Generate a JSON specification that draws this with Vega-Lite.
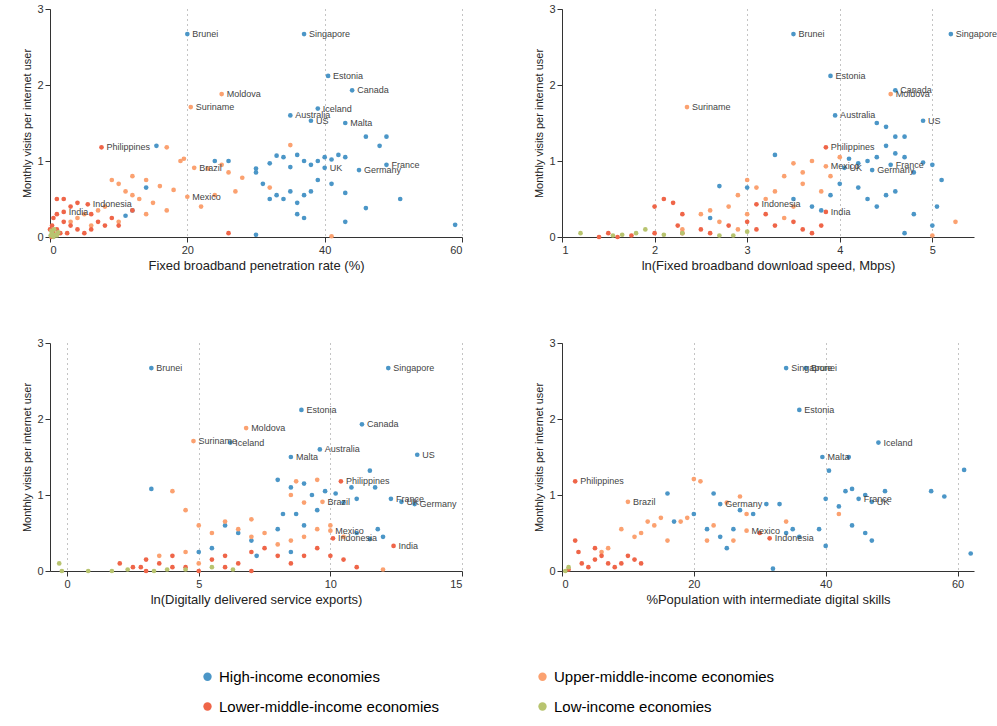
{
"$schema": "https://vega.github.io/schema/vega-lite/v6.json",
"padding": {"left": 21, "top": 3, "right": 5, "bottom": 5},
"config": {"font": "Liberation Sans", "view": {"stroke": null},
 "axis": {"labelFontSize": 11, "titleFontSize": 13, "titleFontWeight": "normal", "labelColor": "#333", "titleColor": "#222", "domainColor": "#333", "tickColor": "#333", "gridDash": [1, 4], "gridColor": "#888"},
 "axisY": {"grid": false, "titleFontSize": 11},
 "legend": {"orient": "none", "legendX": 150, "legendY": 660, "columns": 2, "columnPadding": 95, "rowPadding": 14, "labelFontSize": 15, "symbolSize": 70, "labelLimit": 400, "title": null, "symbolStrokeWidth": 0}},
"vconcat": [
{"hconcat": [
{"width": 412, "height": 228,
 "data": {"values": [
 {"x":20,"y":2.67,"g":"H","lab":"Brunei"},{"x":37,"y":2.67,"g":"H","lab":"Singapore"},{"x":40.5,"y":2.12,"g":"H","lab":"Estonia"},{"x":44,"y":1.93,"g":"H","lab":"Canada"},{"x":25,"y":1.88,"g":"U","lab":"Moldova"},{"x":20.5,"y":1.71,"g":"U","lab":"Suriname"},{"x":39,"y":1.69,"g":"H","lab":"Iceland"},{"x":35,"y":1.6,"g":"H","lab":"Australia"},{"x":38,"y":1.53,"g":"H","lab":"US"},{"x":43,"y":1.5,"g":"H","lab":"Malta"},{"x":7.5,"y":1.18,"g":"L","lab":"Philippines"},{"x":21,"y":0.91,"g":"U","lab":"Brazil"},{"x":49,"y":0.95,"g":"H","lab":"France"},{"x":40,"y":0.91,"g":"H","lab":"UK"},{"x":45,"y":0.88,"g":"H","lab":"Germany"},{"x":20,"y":0.53,"g":"U","lab":"Mexico"},{"x":5.5,"y":0.43,"g":"L","lab":"Indonesia"},{"x":2,"y":0.33,"g":"L","lab":"India"},
 {"x":15.5,"y":1.2,"g":"H"},{"x":24,"y":1.0,"g":"H"},{"x":26,"y":1.0,"g":"H"},{"x":30,"y":0.9,"g":"H"},{"x":32,"y":0.97,"g":"H"},{"x":33,"y":1.07,"g":"H"},{"x":34,"y":1.05,"g":"H"},{"x":35,"y":0.92,"g":"H"},{"x":36,"y":1.08,"g":"H"},{"x":37,"y":1.0,"g":"H"},{"x":38,"y":0.95,"g":"H"},{"x":39,"y":1.0,"g":"H"},{"x":40,"y":1.05,"g":"H"},{"x":41,"y":1.02,"g":"H"},{"x":42,"y":1.08,"g":"H"},{"x":43,"y":1.05,"g":"H"},{"x":46,"y":1.32,"g":"H"},{"x":48,"y":1.2,"g":"H"},{"x":49,"y":1.32,"g":"H"},{"x":30,"y":0.85,"g":"H"},{"x":31,"y":0.7,"g":"H"},{"x":33,"y":0.55,"g":"H"},{"x":34,"y":0.5,"g":"H"},{"x":35,"y":0.6,"g":"H"},{"x":36,"y":0.45,"g":"H"},{"x":37,"y":0.55,"g":"H"},{"x":38,"y":0.6,"g":"H"},{"x":39,"y":0.75,"g":"H"},{"x":41,"y":0.7,"g":"H"},{"x":43,"y":0.58,"g":"H"},{"x":46,"y":0.38,"g":"H"},{"x":51,"y":0.5,"g":"H"},{"x":59,"y":0.16,"g":"H"},{"x":30,"y":0.03,"g":"H"},{"x":37,"y":0.25,"g":"H"},{"x":43,"y":0.2,"g":"H"},{"x":12,"y":0.35,"g":"H"},{"x":11,"y":0.28,"g":"H"},{"x":14,"y":0.65,"g":"H"},{"x":32,"y":0.5,"g":"H"},{"x":36,"y":0.3,"g":"H"},
 {"x":17,"y":1.18,"g":"U"},{"x":19.5,"y":1.03,"g":"U"},{"x":19,"y":1.0,"g":"U"},{"x":23,"y":0.9,"g":"U"},{"x":25,"y":0.95,"g":"U"},{"x":26,"y":0.85,"g":"U"},{"x":14,"y":0.75,"g":"U"},{"x":16,"y":0.67,"g":"U"},{"x":18,"y":0.62,"g":"U"},{"x":12,"y":0.55,"g":"U"},{"x":13,"y":0.5,"g":"U"},{"x":10,"y":0.7,"g":"U"},{"x":9,"y":0.75,"g":"U"},{"x":11,"y":0.6,"g":"U"},{"x":15,"y":0.45,"g":"U"},{"x":17,"y":0.35,"g":"U"},{"x":22,"y":0.4,"g":"U"},{"x":24,"y":0.55,"g":"U"},{"x":8,"y":0.4,"g":"U"},{"x":7,"y":0.35,"g":"U"},{"x":5,"y":0.3,"g":"U"},{"x":3,"y":0.2,"g":"U"},{"x":4,"y":0.25,"g":"U"},{"x":10,"y":0.2,"g":"U"},{"x":14,"y":0.3,"g":"U"},{"x":32,"y":0.65,"g":"U"},{"x":35,"y":1.21,"g":"U"},{"x":28,"y":0.78,"g":"U"},{"x":27,"y":0.6,"g":"U"},{"x":41,"y":0.01,"g":"U"},{"x":12,"y":0.8,"g":"U"},{"x":6,"y":0.15,"g":"U"},
 {"x":1,"y":0.5,"g":"L"},{"x":2,"y":0.5,"g":"L"},{"x":3,"y":0.4,"g":"L"},{"x":4,"y":0.45,"g":"L"},{"x":1,"y":0.3,"g":"L"},{"x":2,"y":0.2,"g":"L"},{"x":3,"y":0.15,"g":"L"},{"x":4,"y":0.1,"g":"L"},{"x":5,"y":0.05,"g":"L"},{"x":6,"y":0.1,"g":"L"},{"x":7,"y":0.2,"g":"L"},{"x":8,"y":0.15,"g":"L"},{"x":9,"y":0.25,"g":"L"},{"x":10,"y":0.15,"g":"L"},{"x":1,"y":0.1,"g":"L"},{"x":0.5,"y":0.05,"g":"L"},{"x":0.3,"y":0.15,"g":"L"},{"x":0.5,"y":0.25,"g":"L"},{"x":1.5,"y":0.05,"g":"L"},{"x":2.5,"y":0.05,"g":"L"},{"x":6,"y":0.3,"g":"L"},{"x":26,"y":0.05,"g":"L"},{"x":12,"y":0.35,"g":"L"},{"x":0,"y":0.1,"g":"L"},{"x":0.2,"y":0.0,"g":"L"},
 {"x":0.1,"y":0.02,"g":"Lo"},{"x":0.3,"y":0.05,"g":"Lo"},{"x":0.5,"y":0.0,"g":"Lo"},{"x":0.8,"y":0.03,"g":"Lo"},{"x":1,"y":0.02,"g":"Lo"},{"x":1.2,"y":0.06,"g":"Lo"},{"x":0.2,"y":0.08,"g":"Lo"},{"x":0.6,"y":0.1,"g":"Lo"}]},
 "encoding": {"x": {"field": "x", "type": "quantitative", "title": "Fixed broadband penetration rate (%)", "scale": {"domain": [0, 60], "nice": false}, "axis": {"values": [0, 20, 40, 60], "grid": true}},
  "y": {"field": "y", "type": "quantitative", "title": "Monthly visits per internet user", "scale": {"domain": [0, 3]}, "axis": {"values": [0, 1, 2, 3]}}},
 "layer": [
  {"mark": {"type": "circle", "size": 22, "opacity": 1}, "encoding": {"color": {"field": "g", "type": "nominal", "scale": {"domain": ["H", "L", "U", "Lo"], "range": ["#4b96c7", "#ef6548", "#fba170", "#b8c46f"]}, "legend": {"labelExpr": "{'H':'High-income economies','U':'Upper-middle-income economies','L':'Lower-middle-income economies','Lo':'Low-income economies'}[datum.label]"}}}},
  {"transform": [{"filter": "datum.lab"}], "mark": {"type": "text", "align": "left", "dx": 5, "fontSize": 9, "color": "#444"}, "encoding": {"text": {"field": "lab"}}}]},
{"width": 412, "height": 228,
 "data": {"values": [
 {"x":3.5,"y":2.67,"g":"H","lab":"Brunei"},{"x":5.2,"y":2.67,"g":"H","lab":"Singapore"},{"x":3.9,"y":2.12,"g":"H","lab":"Estonia"},{"x":4.6,"y":1.93,"g":"H","lab":"Canada"},{"x":4.55,"y":1.88,"g":"U","lab":"Moldova"},{"x":2.35,"y":1.71,"g":"U","lab":"Suriname"},{"x":3.95,"y":1.6,"g":"H","lab":"Australia"},{"x":4.9,"y":1.53,"g":"H","lab":"US"},{"x":3.85,"y":1.18,"g":"L","lab":"Philippines"},{"x":3.85,"y":0.93,"g":"U","lab":"Mexico"},{"x":4.55,"y":0.95,"g":"H","lab":"France"},{"x":4.05,"y":0.91,"g":"H","lab":"UK"},{"x":4.35,"y":0.88,"g":"H","lab":"Germany"},{"x":3.1,"y":0.43,"g":"L","lab":"Indonesia"},{"x":3.85,"y":0.33,"g":"L","lab":"India"},
 {"x":4.4,"y":1.5,"g":"H"},{"x":4.5,"y":1.45,"g":"H"},{"x":4.6,"y":1.32,"g":"H"},{"x":4.7,"y":1.32,"g":"H"},{"x":4.5,"y":1.2,"g":"H"},{"x":4.6,"y":1.1,"g":"H"},{"x":4.7,"y":1.05,"g":"H"},{"x":4.4,"y":1.05,"g":"H"},{"x":4.3,"y":1.0,"g":"H"},{"x":4.2,"y":0.97,"g":"H"},{"x":4.1,"y":1.03,"g":"H"},{"x":4.8,"y":0.85,"g":"H"},{"x":4.9,"y":0.98,"g":"H"},{"x":5.0,"y":0.95,"g":"H"},{"x":5.1,"y":0.75,"g":"H"},{"x":4.6,"y":0.6,"g":"H"},{"x":4.5,"y":0.55,"g":"H"},{"x":4.3,"y":0.5,"g":"H"},{"x":4.2,"y":0.65,"g":"H"},{"x":4.0,"y":0.7,"g":"H"},{"x":3.9,"y":0.55,"g":"H"},{"x":4.4,"y":0.4,"g":"H"},{"x":4.7,"y":0.05,"g":"H"},{"x":5.0,"y":0.15,"g":"H"},{"x":5.05,"y":0.4,"g":"H"},{"x":3.3,"y":1.08,"g":"H"},{"x":2.7,"y":0.67,"g":"H"},{"x":2.6,"y":0.25,"g":"H"},{"x":3.0,"y":0.65,"g":"H"},{"x":3.5,"y":0.5,"g":"H"},{"x":3.7,"y":0.4,"g":"H"},{"x":4.8,"y":0.3,"g":"H"},{"x":3.8,"y":0.35,"g":"H"},
 {"x":3.5,"y":0.97,"g":"U"},{"x":3.7,"y":1.0,"g":"U"},{"x":3.6,"y":0.85,"g":"U"},{"x":3.4,"y":0.8,"g":"U"},{"x":3.0,"y":0.75,"g":"U"},{"x":3.1,"y":0.65,"g":"U"},{"x":3.2,"y":0.5,"g":"U"},{"x":3.3,"y":0.6,"g":"U"},{"x":2.9,"y":0.55,"g":"U"},{"x":2.8,"y":0.4,"g":"U"},{"x":2.6,"y":0.35,"g":"U"},{"x":2.5,"y":0.3,"g":"U"},{"x":2.7,"y":0.2,"g":"U"},{"x":3.0,"y":0.3,"g":"U"},{"x":3.4,"y":0.25,"g":"U"},{"x":3.8,"y":0.6,"g":"U"},{"x":3.9,"y":0.8,"g":"U"},{"x":4.0,"y":1.05,"g":"U"},{"x":3.6,"y":0.7,"g":"U"},{"x":2.9,"y":0.1,"g":"U"},{"x":5.25,"y":0.2,"g":"U"},{"x":5.0,"y":0.02,"g":"U"},{"x":2.3,"y":0.1,"g":"U"},{"x":3.5,"y":0.4,"g":"U"},
 {"x":2.0,"y":0.4,"g":"L"},{"x":2.1,"y":0.5,"g":"L"},{"x":2.2,"y":0.45,"g":"L"},{"x":2.3,"y":0.3,"g":"L"},{"x":2.25,"y":0.15,"g":"L"},{"x":2.3,"y":0.05,"g":"L"},{"x":2.5,"y":0.1,"g":"L"},{"x":2.6,"y":0.05,"g":"L"},{"x":2.8,"y":0.15,"g":"L"},{"x":3.0,"y":0.2,"g":"L"},{"x":3.1,"y":0.1,"g":"L"},{"x":3.3,"y":0.15,"g":"L"},{"x":3.5,"y":0.2,"g":"L"},{"x":3.6,"y":0.1,"g":"L"},{"x":3.7,"y":0.05,"g":"L"},{"x":1.4,"y":0.0,"g":"L"},{"x":1.5,"y":0.05,"g":"L"},{"x":1.6,"y":0.0,"g":"L"},{"x":1.75,"y":0.02,"g":"L"},{"x":2.0,"y":0.05,"g":"L"},{"x":3.2,"y":0.3,"g":"L"},{"x":3.8,"y":0.15,"g":"L"},
 {"x":1.2,"y":0.05,"g":"Lo"},{"x":1.55,"y":0.02,"g":"Lo"},{"x":1.65,"y":0.03,"g":"Lo"},{"x":1.8,"y":0.05,"g":"Lo"},{"x":1.9,"y":0.1,"g":"Lo"},{"x":2.1,"y":0.03,"g":"Lo"},{"x":2.3,"y":0.05,"g":"Lo"},{"x":2.7,"y":0.02,"g":"Lo"},{"x":2.85,"y":0.02,"g":"Lo"},{"x":3.0,"y":0.07,"g":"Lo"}]},
 "encoding": {"x": {"field": "x", "type": "quantitative", "title": "ln(Fixed broadband download speed, Mbps)", "scale": {"domain": [1, 5.45], "nice": false}, "axis": {"values": [1, 2, 3, 4, 5], "grid": true}},
  "y": {"field": "y", "type": "quantitative", "title": "Monthly visits per internet user", "scale": {"domain": [0, 3]}, "axis": {"values": [0, 1, 2, 3]}}},
 "layer": [
  {"mark": {"type": "circle", "size": 22, "opacity": 1}, "encoding": {"color": {"field": "g", "type": "nominal"}}},
  {"transform": [{"filter": "datum.lab"}], "mark": {"type": "text", "align": "left", "dx": 5, "fontSize": 9, "color": "#444", "limit": 45}, "encoding": {"text": {"field": "lab"}}}]}
], "spacing": 70},
{"hconcat": [
{"width": 412, "height": 228,
 "data": {"values": [
 {"x":3.2,"y":2.67,"g":"H","lab":"Brunei"},{"x":12.2,"y":2.67,"g":"H","lab":"Singapore"},{"x":8.9,"y":2.12,"g":"H","lab":"Estonia"},{"x":11.2,"y":1.93,"g":"H","lab":"Canada"},{"x":6.8,"y":1.88,"g":"U","lab":"Moldova"},{"x":4.8,"y":1.71,"g":"U","lab":"Suriname"},{"x":6.2,"y":1.69,"g":"H","lab":"Iceland"},{"x":9.6,"y":1.6,"g":"H","lab":"Australia"},{"x":13.3,"y":1.53,"g":"H","lab":"US"},{"x":8.5,"y":1.5,"g":"H","lab":"Malta"},{"x":10.4,"y":1.18,"g":"L","lab":"Philippines"},{"x":12.3,"y":0.95,"g":"H","lab":"France"},{"x":12.7,"y":0.91,"g":"H","lab":"UK"},{"x":13.2,"y":0.88,"g":"H","lab":"Germany"},{"x":9.7,"y":0.91,"g":"U","lab":"Brazil"},{"x":10.0,"y":0.53,"g":"U","lab":"Mexico"},{"x":10.1,"y":0.43,"g":"L","lab":"Indonesia"},{"x":12.4,"y":0.33,"g":"L","lab":"India"},
 {"x":3.2,"y":1.08,"g":"H"},{"x":8,"y":1.2,"g":"H"},{"x":8.5,"y":1.1,"g":"H"},{"x":9,"y":1.15,"g":"H"},{"x":9.3,"y":1.0,"g":"H"},{"x":9.8,"y":1.05,"g":"H"},{"x":10.2,"y":1.02,"g":"H"},{"x":10.8,"y":1.1,"g":"H"},{"x":11.5,"y":1.32,"g":"H"},{"x":11.7,"y":1.1,"g":"H"},{"x":11,"y":0.95,"g":"H"},{"x":10.5,"y":0.9,"g":"H"},{"x":9.5,"y":0.8,"g":"H"},{"x":9,"y":0.6,"g":"H"},{"x":8.7,"y":0.75,"g":"H"},{"x":8.2,"y":0.75,"g":"H"},{"x":8,"y":0.55,"g":"H"},{"x":6,"y":0.6,"g":"H"},{"x":6.5,"y":0.5,"g":"H"},{"x":5.5,"y":0.3,"g":"H"},{"x":5,"y":0.25,"g":"H"},{"x":7,"y":0.4,"g":"H"},{"x":11,"y":0.5,"g":"H"},{"x":11.5,"y":0.42,"g":"H"},{"x":11.8,"y":0.55,"g":"H"},{"x":12,"y":0.45,"g":"H"},{"x":8.5,"y":0.25,"g":"H"},{"x":7.2,"y":0.2,"g":"H"},
 {"x":4,"y":1.05,"g":"U"},{"x":4.5,"y":0.8,"g":"U"},{"x":5,"y":0.6,"g":"U"},{"x":5.5,"y":0.5,"g":"U"},{"x":6,"y":0.65,"g":"U"},{"x":6.5,"y":0.55,"g":"U"},{"x":7,"y":0.45,"g":"U"},{"x":7.5,"y":0.5,"g":"U"},{"x":8,"y":0.35,"g":"U"},{"x":8.5,"y":0.4,"g":"U"},{"x":9,"y":0.45,"g":"U"},{"x":9.5,"y":0.55,"g":"U"},{"x":10,"y":0.6,"g":"U"},{"x":10.5,"y":0.45,"g":"U"},{"x":9,"y":0.9,"g":"U"},{"x":8.5,"y":1.0,"g":"U"},{"x":7,"y":0.68,"g":"U"},{"x":4.5,"y":0.25,"g":"U"},{"x":5,"y":0.1,"g":"U"},{"x":3.5,"y":0.2,"g":"U"},{"x":12,"y":0.02,"g":"U"},{"x":9.5,"y":1.2,"g":"U"},{"x":8.7,"y":1.18,"g":"U"},
 {"x":2,"y":0.1,"g":"L"},{"x":2.5,"y":0.05,"g":"L"},{"x":3,"y":0.15,"g":"L"},{"x":3.5,"y":0.1,"g":"L"},{"x":4,"y":0.2,"g":"L"},{"x":4.5,"y":0.05,"g":"L"},{"x":5,"y":0.0,"g":"L"},{"x":5.5,"y":0.15,"g":"L"},{"x":6,"y":0.2,"g":"L"},{"x":6.5,"y":0.1,"g":"L"},{"x":7,"y":0.25,"g":"L"},{"x":7.5,"y":0.3,"g":"L"},{"x":8,"y":0.2,"g":"L"},{"x":8.5,"y":0.1,"g":"L"},{"x":9,"y":0.2,"g":"L"},{"x":9.5,"y":0.3,"g":"L"},{"x":10,"y":0.2,"g":"L"},{"x":10.5,"y":0.15,"g":"L"},{"x":3,"y":0.0,"g":"L"},{"x":4,"y":0.05,"g":"L"},{"x":6,"y":0.05,"g":"L"},{"x":7,"y":0.0,"g":"L"},{"x":11,"y":0.05,"g":"L"},{"x":2.8,"y":0.05,"g":"L"},
 {"x":-0.3,"y":0.1,"g":"Lo"},{"x":-0.2,"y":0.0,"g":"Lo"},{"x":0.8,"y":0.0,"g":"Lo"},{"x":1.7,"y":0.0,"g":"Lo"},{"x":2.3,"y":0.02,"g":"Lo"},{"x":3.3,"y":0.0,"g":"Lo"},{"x":3.8,"y":0.02,"g":"Lo"},{"x":4.5,"y":0.02,"g":"Lo"},{"x":5.5,"y":0.05,"g":"Lo"},{"x":6.3,"y":0.02,"g":"Lo"}]},
 "encoding": {"x": {"field": "x", "type": "quantitative", "title": "ln(Digitally delivered service exports)", "scale": {"domain": [-0.65, 15], "nice": false}, "axis": {"values": [0, 5, 10, 15], "grid": true}},
  "y": {"field": "y", "type": "quantitative", "title": "Monthly visits per internet user", "scale": {"domain": [0, 3]}, "axis": {"values": [0, 1, 2, 3]}}},
 "layer": [
  {"mark": {"type": "circle", "size": 22, "opacity": 1}, "encoding": {"color": {"field": "g", "type": "nominal"}}},
  {"transform": [{"filter": "datum.lab"}], "mark": {"type": "text", "align": "left", "dx": 5, "fontSize": 9, "color": "#444"}, "encoding": {"text": {"field": "lab"}}}]},
{"width": 412, "height": 228,
 "data": {"values": [
 {"x":34,"y":2.67,"g":"H","lab":"Singapore"},{"x":37,"y":2.67,"g":"H","lab":"Brunei"},{"x":36,"y":2.12,"g":"H","lab":"Estonia"},{"x":48,"y":1.69,"g":"H","lab":"Iceland"},{"x":39.5,"y":1.5,"g":"H","lab":"Malta"},{"x":2,"y":1.18,"g":"L","lab":"Philippines"},{"x":10,"y":0.91,"g":"U","lab":"Brazil"},{"x":24,"y":0.88,"g":"H","lab":"Germany"},{"x":45,"y":0.95,"g":"H","lab":"France"},{"x":47,"y":0.91,"g":"H","lab":"UK"},{"x":28,"y":0.53,"g":"U","lab":"Mexico"},{"x":31.5,"y":0.43,"g":"L","lab":"Indonesia"},
 {"x":43.5,"y":1.5,"g":"H"},{"x":40.5,"y":1.32,"g":"H"},{"x":61,"y":1.33,"g":"H"},{"x":62,"y":0.23,"g":"H"},{"x":56,"y":1.05,"g":"H"},{"x":58,"y":0.98,"g":"H"},{"x":44,"y":1.08,"g":"H"},{"x":43,"y":1.05,"g":"H"},{"x":46,"y":1.0,"g":"H"},{"x":49,"y":1.05,"g":"H"},{"x":42,"y":0.85,"g":"H"},{"x":44,"y":0.6,"g":"H"},{"x":46,"y":0.5,"g":"H"},{"x":47,"y":0.4,"g":"H"},{"x":40,"y":0.95,"g":"H"},{"x":39,"y":0.55,"g":"H"},{"x":36,"y":0.45,"g":"H"},{"x":34,"y":0.5,"g":"H"},{"x":33,"y":0.88,"g":"H"},{"x":31,"y":0.88,"g":"H"},{"x":29,"y":0.75,"g":"H"},{"x":27,"y":0.8,"g":"H"},{"x":26,"y":0.55,"g":"H"},{"x":25,"y":0.3,"g":"H"},{"x":23,"y":1.02,"g":"H"},{"x":16,"y":1.02,"g":"H"},{"x":17,"y":0.65,"g":"H"},{"x":20,"y":0.75,"g":"H"},{"x":22,"y":0.55,"g":"H"},{"x":24,"y":0.45,"g":"H"},{"x":32,"y":0.03,"g":"H"},{"x":40,"y":0.33,"g":"H"},{"x":35,"y":0.55,"g":"H"},
 {"x":20,"y":1.21,"g":"U"},{"x":21,"y":1.18,"g":"U"},{"x":27,"y":0.98,"g":"U"},{"x":19,"y":0.7,"g":"U"},{"x":18,"y":0.65,"g":"U"},{"x":15,"y":0.7,"g":"U"},{"x":14,"y":0.6,"g":"U"},{"x":13,"y":0.65,"g":"U"},{"x":12,"y":0.5,"g":"U"},{"x":11,"y":0.45,"g":"U"},{"x":9,"y":0.55,"g":"U"},{"x":16,"y":0.4,"g":"U"},{"x":22,"y":0.4,"g":"U"},{"x":26,"y":0.4,"g":"U"},{"x":28,"y":0.75,"g":"U"},{"x":34,"y":0.65,"g":"U"},{"x":42,"y":0.75,"g":"U"},{"x":23,"y":0.6,"g":"U"},{"x":25,"y":0.9,"g":"U"},{"x":7,"y":0.3,"g":"U"},{"x":6,"y":0.25,"g":"U"},
 {"x":2,"y":0.4,"g":"L"},{"x":2.5,"y":0.25,"g":"L"},{"x":3,"y":0.1,"g":"L"},{"x":4,"y":0.05,"g":"L"},{"x":5,"y":0.15,"g":"L"},{"x":6,"y":0.2,"g":"L"},{"x":7,"y":0.1,"g":"L"},{"x":8,"y":0.05,"g":"L"},{"x":9,"y":0.1,"g":"L"},{"x":10,"y":0.2,"g":"L"},{"x":11,"y":0.15,"g":"L"},{"x":12,"y":0.1,"g":"L"},{"x":1,"y":0.02,"g":"L"},{"x":5,"y":0.3,"g":"L"},{"x":30,"y":0.5,"g":"L"},
 {"x":1,"y":0.05,"g":"Lo"},{"x":0.5,"y":0.0,"g":"Lo"}]},
 "encoding": {"x": {"field": "x", "type": "quantitative", "title": "%Population with intermediate digital skills", "scale": {"domain": [0, 62.5], "nice": false}, "axis": {"values": [0, 20, 40, 60], "grid": true}},
  "y": {"field": "y", "type": "quantitative", "title": "Monthly visits per internet user", "scale": {"domain": [0, 3]}, "axis": {"values": [0, 1, 2, 3]}}},
 "layer": [
  {"mark": {"type": "circle", "size": 22, "opacity": 1}, "encoding": {"color": {"field": "g", "type": "nominal"}}},
  {"transform": [{"filter": "datum.lab"}], "mark": {"type": "text", "align": "left", "dx": 5, "fontSize": 9, "color": "#444"}, "encoding": {"text": {"field": "lab"}}}]}
], "spacing": 70}
], "spacing": 65
}
